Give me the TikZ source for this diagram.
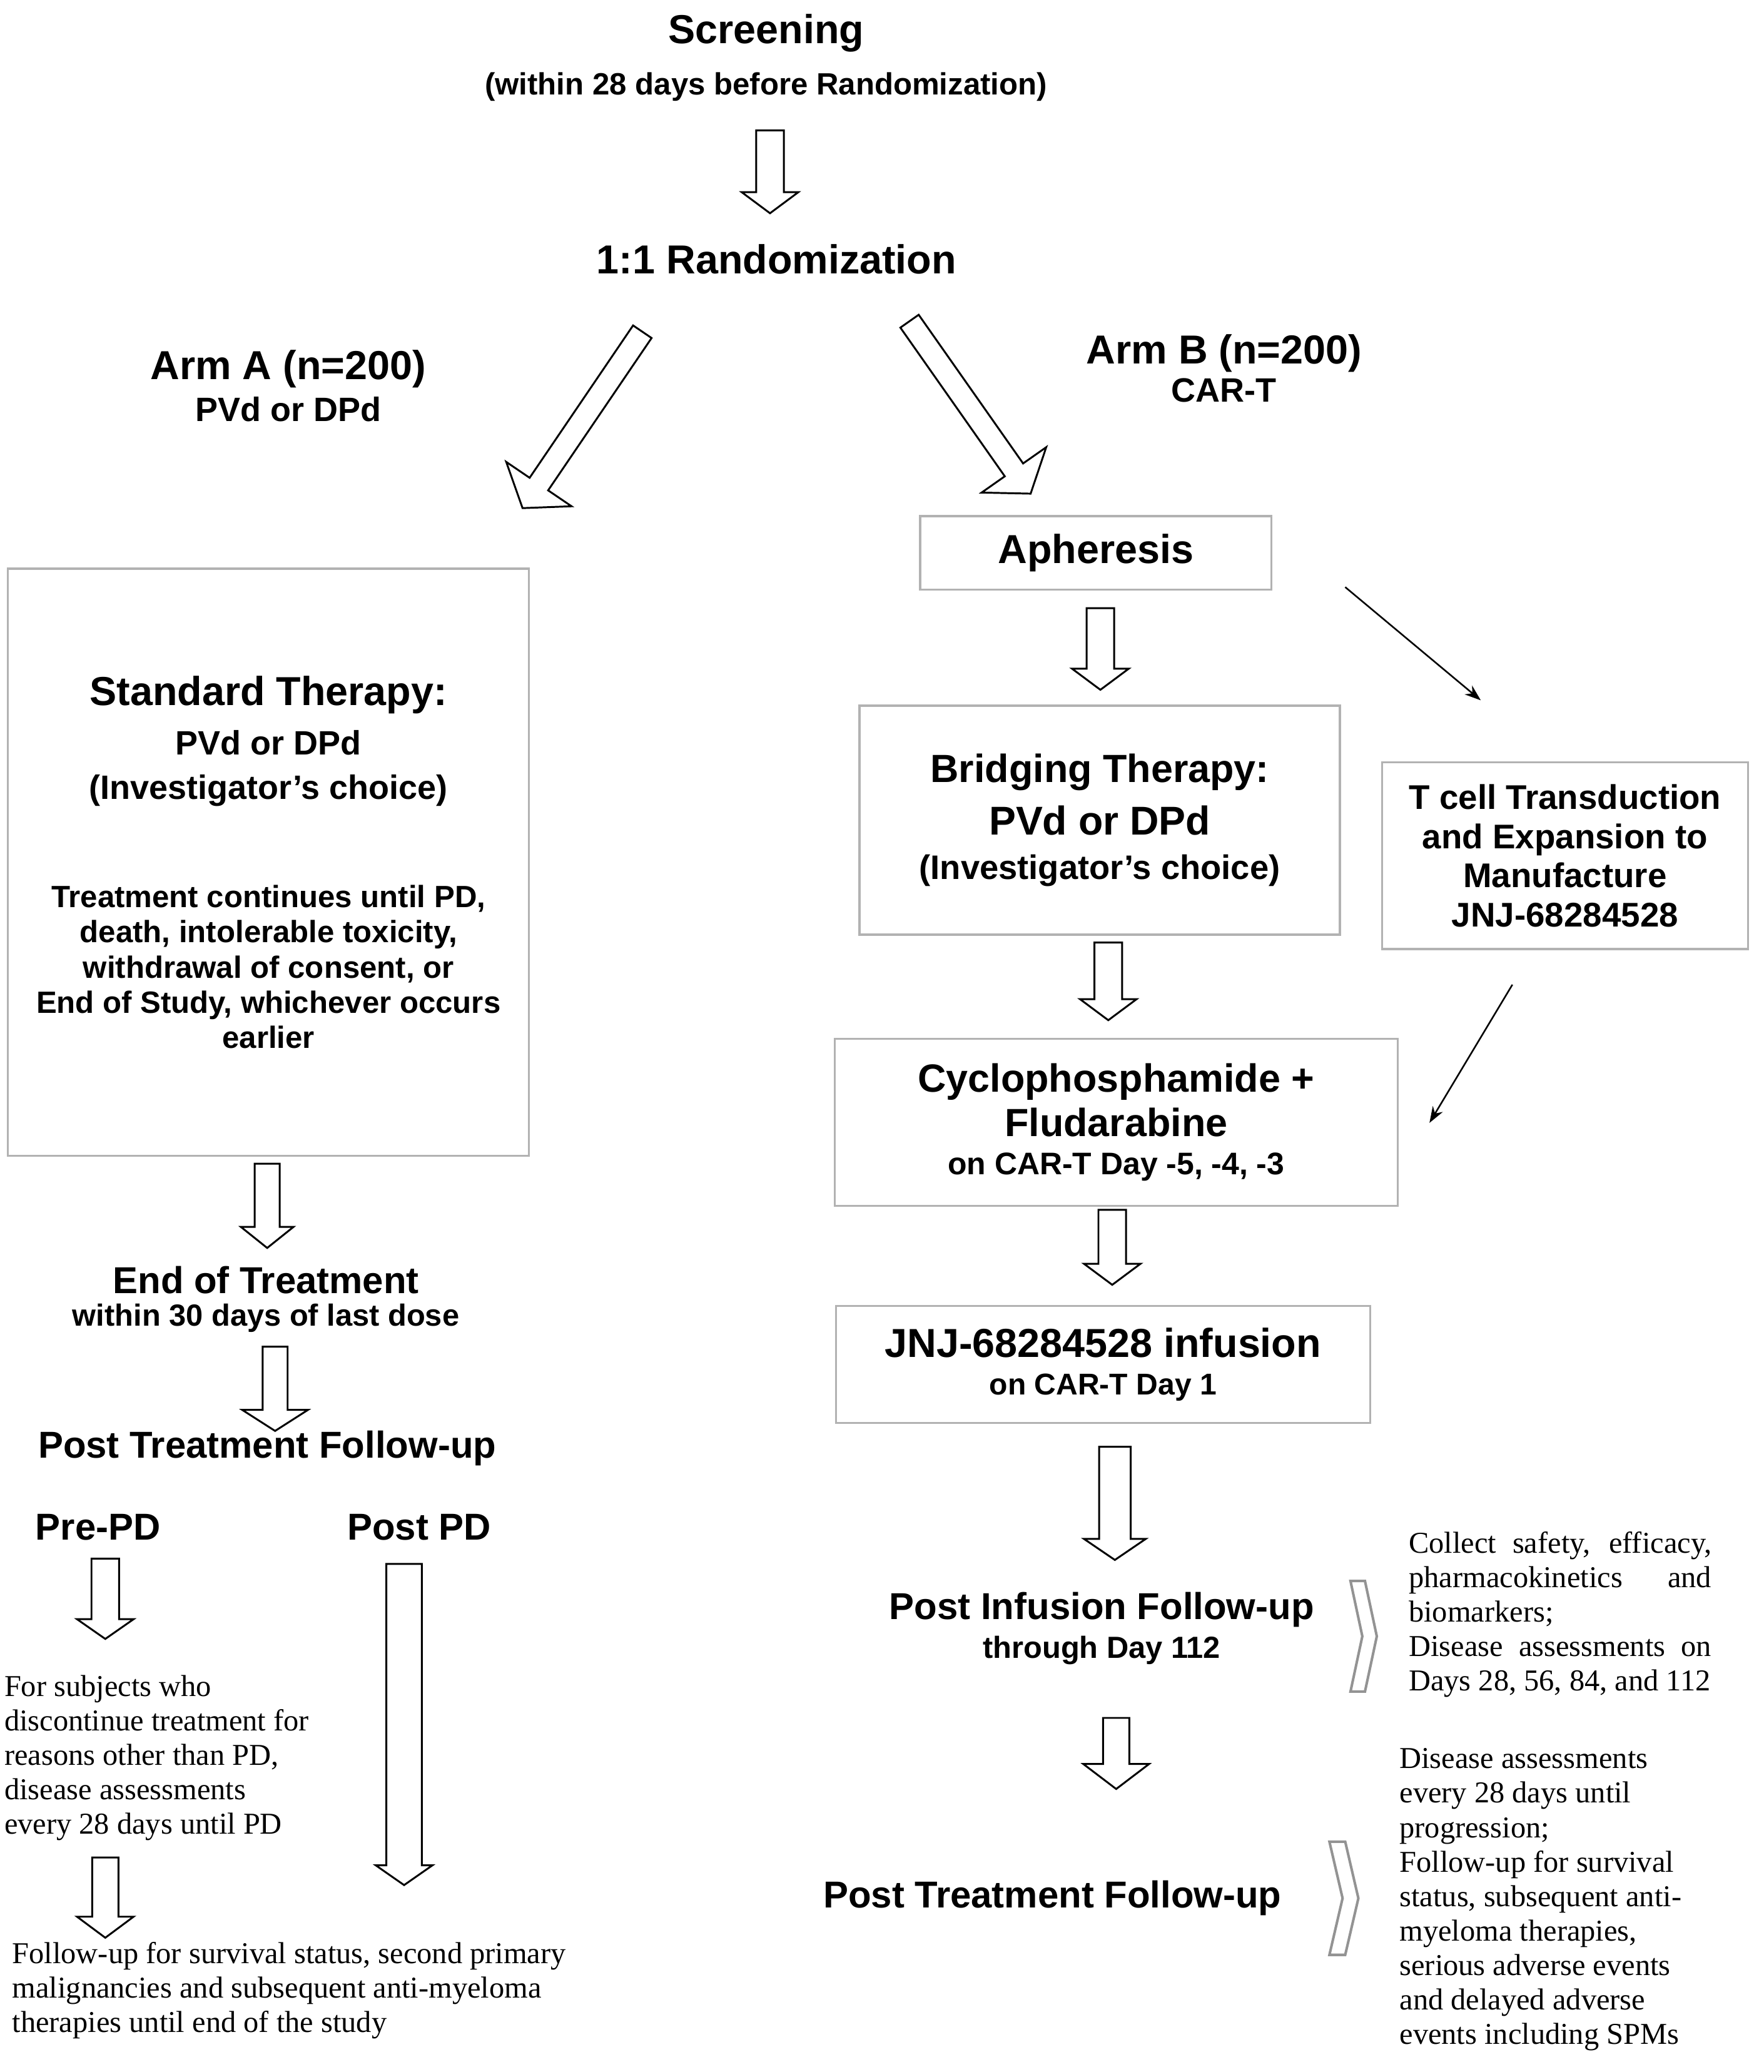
\documentclass[tikz,border=0pt]{standalone}
\usepackage{fontspec}
\setmainfont{Liberation Sans}
\newfontfamily\notefont{Liberation Serif}
\usepackage{tikz}
\usetikzlibrary{
  arrows.meta,
  calc,
  positioning
}
\newcommand{\bigsz}{\fontsize{17.5}{21}\selectfont}
\newcommand{\midsz}{\fontsize{16.2}{19}\selectfont}
\newcommand{\armsz}{\fontsize{14.6}{17}\selectfont}
\newcommand{\arrShaft}{0.21cm}
\newcommand{\arrHeadW}{0.43cm}
\newcommand{\arrHeadL}{0.32cm}
\newlength{\noteW}
\setlength{\noteW}{4.6cm}
\newcommand{\spreadline}[1]{\makebox[\noteW][s]{#1}}

\begin{document}
\begin{tikzpicture}[
    x=0.02cm, y=-0.02cm,
    every node/.style={inner sep=0pt},
    box/.style={draw=gray!60, line width=0.9pt, align=center, font=\bfseries},
    lbl/.style={align=center, font=\bfseries},
    note/.style={align=left, font=\notefont\fontsize{13.1}{14.9}\selectfont},
    hollow/.style={draw, line width=0.8pt, line join=miter, to path={
        let \p1=($(\tikztotarget)-(\tikztostart)$),
            \n1={atan2(\y1,\x1)}, \n2={veclen(\x1,\y1)} in
        ($(\tikztostart)+(\n1+90:\arrShaft)$)
        -- ($(\tikztostart)+(\n1:{\n2-\arrHeadL})+(\n1+90:\arrShaft)$)
        -- ($(\tikztostart)+(\n1:{\n2-\arrHeadL})+(\n1+90:\arrHeadW)$)
        -- (\tikztotarget)
        -- ($(\tikztostart)+(\n1:{\n2-\arrHeadL})+(\n1-90:\arrHeadW)$)
        -- ($(\tikztostart)+(\n1:{\n2-\arrHeadL})+(\n1-90:\arrShaft)$)
        -- ($(\tikztostart)+(\n1-90:\arrShaft)$) -- cycle}},
    shaft/.code={\def\arrShaft{#1}},
    headw/.code={\def\arrHeadW{#1}},
    headl/.code={\def\arrHeadL{#1}},
    feed/.style={-{Stealth[length=7pt, width=5pt]}, line width=0.7pt},
    chev/.style={draw=gray!85, line width=1.1pt, line join=miter}
  ]
    \path[use as bounding box, fill=white] (0,0) rectangle (1340,1574);

    % screening and randomization
    \node[lbl, font=\bfseries\fontsize{13.3}{16}\selectfont] (screen) at (582,44)
      {{\bigsz Screening}\\[6.2pt](within 28 days before Randomization)};
    \node[lbl, font=\bfseries\bigsz] (rand) at (590,197) {1:1 Randomization};
    \node[lbl, font=\bfseries\fontsize{14.6}{18.2}\selectfont] (armA) at (219,293)
      {{\bigsz Arm A (n=200)}\\PVd or DPd};
    \node[lbl, font=\bfseries\fontsize{14.6}{16.5}\selectfont] (armB) at (930,280)
      {{\bigsz Arm B (n=200)}\\CAR-T};

    % arm A
    \node[box, minimum width=7.92cm, minimum height=8.92cm,
          font=\bfseries\fontsize{13.3}{15.2}\selectfont] (std) at (204,655)
      {{\bigsz Standard Therapy:}\\[6.1pt]
       {\armsz PVd or DPd}\\[4.2pt]
       {\armsz (Investigator's choice)}\\[31.5pt]
       Treatment continues until PD,\\
       death, intolerable toxicity,\\
       withdrawal of consent, or\\
       End of Study, whichever occurs\\
       earlier};
    \node[lbl, font=\bfseries\fontsize{13.2}{14.2}\selectfont] (eot) at (202,987)
      {{\midsz End of Treatment}\\within 30 days of last dose};
    \node[lbl, font=\bfseries\midsz] (ptA) at (203,1100) {Post Treatment Follow-up};
    \node[lbl, font=\bfseries\midsz] (prePD) at (74.5,1160) {Pre-PD};
    \node[lbl, font=\bfseries\midsz] (postPD) at (318.5,1160) {Post PD};
    \node[note, anchor=west] (preNote) at (3,1335.5)
      {For subjects who\\discontinue treatment for\\reasons other than PD,\\disease assessments\\every 28 days until PD};
    \node[note, anchor=west] (fuNote) at (9,1512)
      {Follow-up for survival status, second primary\\malignancies and subsequent anti-myeloma\\therapies until end of the study};

    % arm B
    \node[box, minimum width=5.34cm, minimum height=1.12cm, font=\bfseries\bigsz] (aph) at (832.5,420)
      {Apheresis};
    \node[box, minimum width=7.3cm, minimum height=3.48cm,
          font=\bfseries\fontsize{14.7}{19.3}\selectfont] (bridge) at (835.5,623)
      {{\fontsize{17}{20}\selectfont Bridging Therapy:}\\[3.5pt]
       {\fontsize{17.4}{20}\selectfont PVd or DPd}\\
       (Investigator's choice)};
    \node[box, minimum width=5.56cm, minimum height=2.84cm,
          font=\bfseries\fontsize{14.8}{16.9}\selectfont] (tcell) at (1189,650)
      {T cell Transduction\\and Expansion to\\Manufacture\\JNJ-68284528};
    \node[box, minimum width=8.56cm, minimum height=2.54cm,
          font=\bfseries\fontsize{13.5}{16.5}\selectfont] (cyclo) at (848,852.5)
      {{\fontsize{17}{20}\selectfont Cyclophosphamide +}\\[2.8pt]
       {\fontsize{17}{20}\selectfont Fludarabine}\\
       on CAR-T Day -5, -4, -3};
    \node[box, minimum width=8.12cm, minimum height=1.78cm,
          font=\bfseries\fontsize{13}{16}\selectfont] (jnj) at (838,1036.5)
      {{\bigsz JNJ-68284528 infusion}\\on CAR-T Day 1};
    \node[lbl, font=\bfseries\fontsize{13.2}{17}\selectfont] (inf) at (837,1237)
      {{\midsz Post Infusion Follow-up}\\through Day 112};
    \node[lbl, font=\bfseries\midsz] (ptB) at (799.5,1442) {Post Treatment Follow-up};
    \node[note, anchor=west] (infNote) at (1070,1226.5)
      {\spreadline{Collect safety, efficacy,}\\
       \spreadline{pharmacokinetics and}\\
       biomarkers;\\
       \spreadline{Disease assessments on}\\
       Days 28, 56, 84, and 112};
    \node[note, anchor=west] (ptNote) at (1063,1443)
      {Disease assessments\\every 28 days until\\progression;\\Follow-up for survival\\status, subsequent anti-\\myeloma therapies,\\serious adverse events\\and delayed adverse\\events including SPMs};

    % arrow ends
    \coordinate (scrOut) at (585,99);      \coordinate (randIn) at (585,162);
    \coordinate (randL) at (488,252);      \coordinate (armAIn) at (397,386);
    \coordinate (randR) at (691,244);      \coordinate (armBIn) at (783,375);
    \coordinate (aphOut) at (836,462);     \coordinate (bridgeIn) at (836,524);
    \coordinate (bridgeOut) at (842,716);  \coordinate (cycloIn) at (842,775);
    \coordinate (cycloOut) at (845,919);   \coordinate (jnjIn) at (845,976);
    \coordinate (jnjOut) at (847,1099);    \coordinate (infIn) at (847,1185);
    \coordinate (infOut) at (848,1305);    \coordinate (ptBIn) at (848,1359);
    \coordinate (stdOut) at (203,884);     \coordinate (eotIn) at (203,948);
    \coordinate (eotOut) at (209,1023);    \coordinate (ptAIn) at (209,1087);
    \coordinate (preOut) at (80,1184);     \coordinate (preIn) at (80,1245);
    \coordinate (postOut) at (307,1188);   \coordinate (postIn) at (307,1432);
    \coordinate (preOut2) at (80,1411);    \coordinate (fuIn) at (80,1472);
    \coordinate (aphSide) at (1022,446);   \coordinate (tcellIn) at (1125,532);
    \coordinate (tcellOut) at (1149,748);  \coordinate (cycloSide) at (1086,853);

    % hollow arrows
    \draw[hollow] (scrOut) to (randIn);
    \draw[hollow, shaft=0.17cm, headw=0.6cm, headl=0.44cm] (randL) to (armAIn);
    \draw[hollow, shaft=0.17cm, headw=0.6cm, headl=0.44cm] (randR) to (armBIn);
    \draw[hollow] (aphOut) to (bridgeIn);
    \draw[hollow] (bridgeOut) to (cycloIn);
    \draw[hollow] (cycloOut) to (jnjIn);
    \draw[hollow, shaft=0.24cm, headw=0.47cm] (jnjOut) to (infIn);
    \draw[hollow, shaft=0.2cm, headw=0.5cm, headl=0.38cm] (infOut) to (ptBIn);
    \draw[hollow, shaft=0.19cm, headw=0.4cm] (stdOut) to (eotIn);
    \draw[hollow, shaft=0.19cm, headw=0.5cm] (eotOut) to (ptAIn);
    \draw[hollow, shaft=0.21cm, headw=0.43cm, headl=0.3cm] (preOut) to (preIn);
    \draw[hollow, shaft=0.27cm, headw=0.43cm, headl=0.3cm] (postOut) to (postIn);
    \draw[hollow, shaft=0.2cm, headw=0.43cm, headl=0.32cm] (preOut2) to (fuIn);

    % T cell branch
    \draw[feed] (aphSide) -- (tcellIn);
    \draw[feed] (tcellOut) -- (cycloSide);

    % chevrons next to the notes
    \coordinate (chevA) at (1026,1201);
    \coordinate (chevB) at (1010,1399);
    \draw[chev] (chevA) -- ++(11,0) -- ++(9,42) -- ++(-9,42) -- ++(-11,0) -- ++(9,-42) -- cycle;
    \draw[chev] (chevB) -- ++(12,0) -- ++(10,43) -- ++(-10,43) -- ++(-12,0) -- ++(10,-43) -- cycle;
  \end{tikzpicture}
\end{document}
